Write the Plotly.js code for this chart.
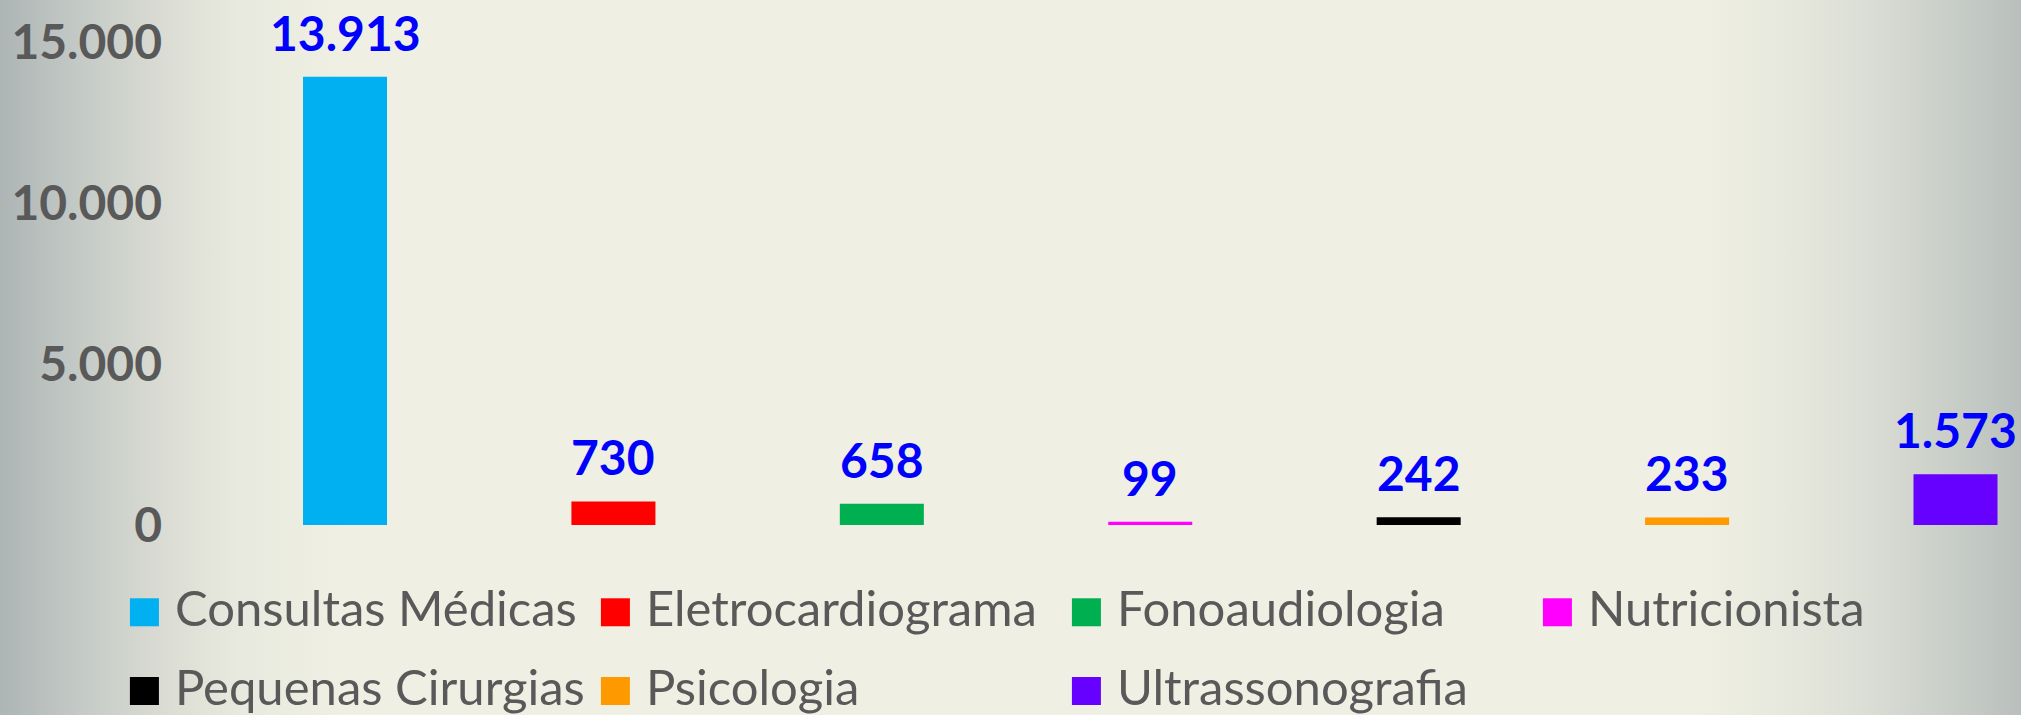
<!DOCTYPE html>
<html>
<head>
<meta charset="utf-8">
<script src="https://cdn.plot.ly/plotly-3.0.1.min.js"></script>
<style>
  html, body { margin: 0; padding: 0; width: 2021px; height: 715px; overflow: hidden; }
  body {
    background: linear-gradient(to right,
      #adb5b5 0%, #c4cac6 4%, #dadcd3 8%, #e9eadf 12%, #efefe3 17%,
      #efefe3 84%, #e8e9de 88%, #dcdfd6 92%, #cbd0ca 96%, #b9bfbc 100%);
  }
  #chart { width: 2021px; height: 715px; }
</style>
</head>
<body>
<div id="chart"></div>
<script>
// ---- data ----
const categories = ["Consultas Médicas", "Eletrocardiograma", "Fonoaudiologia", "Nutricionista",
                    "Pequenas Cirurgias", "Psicologia", "Ultrassonografia"];
const values = [13913, 730, 658, 99, 242, 233, 1573];
const colors = ["#00B0F0", "#FF0000", "#00B050", "#FF00FF", "#000000", "#FF9900", "#6600FF"];
const legendOf = ["legend", "legend", "legend", "legend", "legend2", "legend2", "legend2"];
const yTicks = [0, 5000, 10000, 15000];

// ---- traces ----
const traces = categories.map((c, i) => ({
  type: "bar",
  name: c,
  x: [c],
  y: [values[i]],
  width: 0.313,
  marker: { color: colors[i], line: { width: 0 } },
  legend: legendOf[i],
  hoverinfo: "x+y"
}));

const labelFont = { family: "Lato", size: 48, color: "#0000FF", weight: "bold" };
const annotations = categories.map((c, i) => ({
  x: c, y: values[i], xref: "x", yref: "y",
  text: values[i].toLocaleString("pt-BR"),
  showarrow: false, yanchor: "bottom", yshift: 14,
  font: labelFont
}));

const legendFont = { family: "Lato", size: 49, color: "#595959" };
const legendCommon = {
  orientation: "h", xanchor: "left", yanchor: "middle",
  bgcolor: "rgba(0,0,0,0)", borderwidth: 0,
  itemwidth: 51, entrywidth: 405, entrywidthmode: "pixels",
  font: legendFont, traceorder: "normal"
};

const layout = {
  width: 2021, height: 715,
  margin: { l: 170, r: 0, t: 0, b: 189.5, autoexpand: false },
  paper_bgcolor: "rgba(0,0,0,0)",
  plot_bgcolor: "rgba(0,0,0,0)",
  separators: ",.",
  barmode: "overlay",
  showlegend: true,
  xaxis: {
    type: "category",
    categoryorder: "array", categoryarray: categories,
    range: [-0.652, 6.244],
    showticklabels: false, showgrid: false, zeroline: false, showline: false, ticks: ""
  },
  yaxis: {
    range: [0, 16295],
    tickvals: yTicks,
    tickformat: ",d",
    showgrid: false, zeroline: false, showline: false, ticks: "",
    ticklabelstandoff: 7,
    tickfont: { family: "Lato", size: 48, color: "#595959", weight: "bold" }
  },
  legend: Object.assign({}, legendCommon, { x: -0.0303, y: -0.157 }),
  legend2: Object.assign({}, legendCommon, { x: -0.0303, y: -0.307 }),
  annotations: annotations
};

const gd = document.getElementById("chart");

// enlarge the legend colour squares to the reference's size (idempotent)
const BIG_SQUARE = "M14.5,19H-14.5V-9H14.5Z";
function fixLegendSymbols() {
  gd.querySelectorAll(".legendpoints path").forEach(p => {
    if (p.getAttribute("d") !== BIG_SQUARE) p.setAttribute("d", BIG_SQUARE);
  });
}

Plotly.newPlot(gd, traces, layout, { displayModeBar: false, staticPlot: true }).then(() => {
  fixLegendSymbols();
  [0, 30, 100, 250, 500].forEach(t => setTimeout(fixLegendSymbols, t));
});
gd.on && gd.on("plotly_afterplot", fixLegendSymbols);
</script>
</body>
</html>
